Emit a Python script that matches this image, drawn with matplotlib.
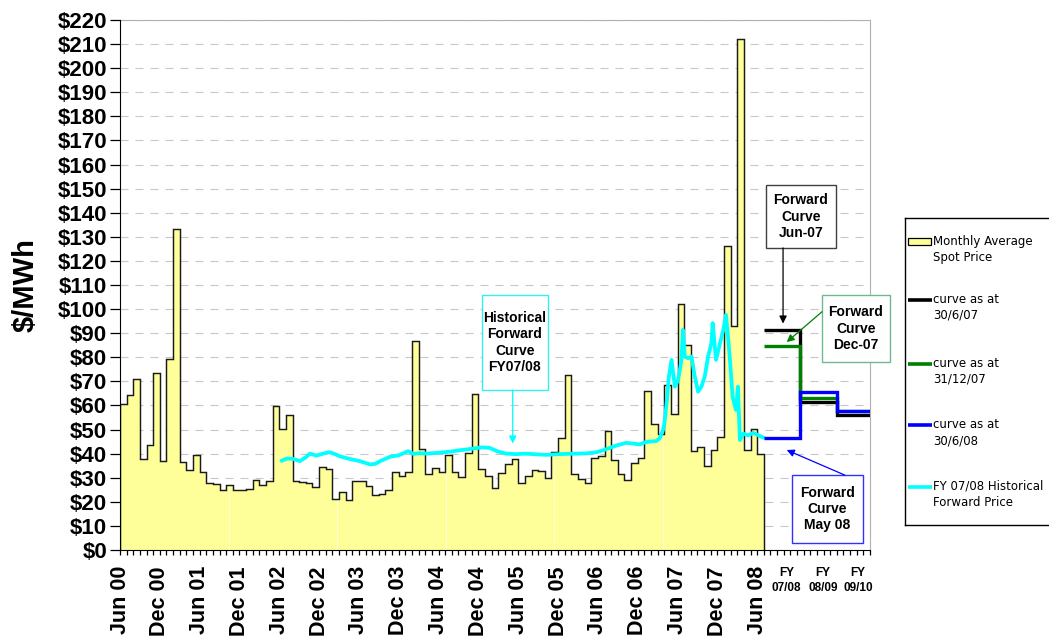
import numpy as np
import matplotlib
matplotlib.use("Agg")
import matplotlib.pyplot as plt
from matplotlib.patches import Rectangle

# ---------------- data ----------------
# Monthly average spot price, Jun 00 .. Jun 08 ($/MWh)
spot_price = [
    60.6, 64.5, 70.8, 37.9, 43.7, 73.3, 37.1, 79.4, 133.2, 36.5,
    33.2, 39.6, 32.4, 27.9, 27.4, 24.9, 27.0, 25.0, 25.0, 25.5,
    29.1, 26.8, 28.6, 59.9, 50.1, 55.9, 28.6, 28.2, 28.0, 26.2,
    34.6, 33.6, 21.3, 24.2, 20.6, 28.5, 28.6, 26.7, 22.7, 23.1,
    25.0, 32.4, 30.6, 32.5, 86.9, 41.8, 31.4, 33.9, 32.4, 39.3,
    32.2, 30.4, 40.3, 64.8, 33.6, 30.8, 25.7, 32.0, 35.6, 37.8,
    27.8, 30.6, 33.1, 32.7, 29.9, 40.5, 46.5, 72.8, 31.5, 29.5,
    27.7, 38.3, 38.9, 49.4, 37.2, 31.4, 28.9, 36.1, 38.3, 66.1,
    52.4, 48.2, 68.6, 56.3, 102.1, 85.3, 41.3, 42.8, 35.0, 41.6,
    46.9, 126.1, 92.9, 212.1, 41.6, 50.4, 39.8,
]

# FY 07/08 historical forward price (month index from Jun 00, $/MWh)
hist_month = [
    24.4, 25.2, 26.1, 27.1, 28.0, 28.6, 29.6, 30.6, 31.6, 32.4,
    33.1, 34.6, 36.1, 37.7, 38.5, 39.2, 40.7, 42.0, 43.4, 44.2,
    45.2, 46.2, 48.2, 49.7, 51.2, 53.2, 54.5, 55.7, 56.9, 58.2,
    59.7, 61.2, 62.8, 64.3, 66.3, 68.3, 70.3, 71.8, 72.8, 74.8,
    76.3, 77.3, 78.3, 79.1, 79.8, 80.8, 81.3, 81.8, 82.0, 82.4,
    82.7, 83.1, 83.6, 84.1, 84.6, 84.8, 85.1, 85.6, 86.1, 86.6,
    87.1, 87.6, 88.1, 88.6, 89.1, 89.3, 89.8, 90.4, 90.9, 91.3,
    91.6, 91.9, 92.3, 92.8, 93.1, 93.4, 93.9, 94.6, 95.4, 96.2,
    96.9,
]
hist_price = [
    37.1, 38.0, 37.8, 36.9, 38.5, 40.0, 39.2, 40.0, 40.6, 39.8,
    38.9, 37.8, 36.9, 35.5, 35.8, 36.9, 38.7, 39.3, 41.0, 39.9,
    40.2, 40.0, 40.4, 40.8, 41.4, 42.1, 42.6, 42.4, 40.9, 40.0,
    39.8, 40.0, 39.7, 39.5, 39.8, 40.0, 40.1, 40.6, 41.4, 43.4,
    44.5, 44.2, 43.8, 44.7, 45.0, 45.2, 46.3, 49.7, 52.0, 62.0,
    72.0, 78.9, 67.8, 70.6, 78.9, 91.4, 80.3, 79.6, 80.3, 72.0,
    65.7, 67.8, 72.0, 80.3, 85.8, 94.2, 78.9, 85.8, 91.4, 97.6,
    88.6, 78.9, 63.6, 58.1, 67.8, 45.6, 48.3, 47.6, 48.6, 47.6,
    46.7,
]

# Forward curves for FY 07/08, 08/09, 09/10
fy_edges = [97, 102.4, 108, 113]
fy_labels = ["FY\n07/08", "FY\n08/09", "FY\n09/10"]
curve_jun07 = [91.3, 61.6, 56.0]
curve_dec07 = [84.8, 63.0, 57.5]
curve_jun08 = [46.6, 65.5, 57.7]

month_tick_labels = ["Jun 00", "Dec 00", "Jun 01", "Dec 01", "Jun 02", "Dec 02",
                     "Jun 03", "Dec 03", "Jun 04", "Dec 04", "Jun 05", "Dec 05",
                     "Jun 06", "Dec 06", "Jun 07", "Dec 07", "Jun 08"]
y_ticks = list(range(0, 221, 10))

legend_labels = ["Monthly Average\nSpot Price", "curve as at\n30/6/07",
                 "curve as at\n31/12/07", "curve as at\n30/6/08",
                 "FY 07/08 Historical\nForward Price"]

# ---------------- styles ----------------
YELLOW = "#FFFF99"
CYAN = "#00FFFF"
GREEN = "#008000"
BLUE = "#0000FF"
FONT = "Liberation Sans"

W, H = 1049, 637
fig = plt.figure(figsize=(W / 100, H / 100), dpi=100)
fig.patch.set_facecolor("white")
ax = fig.add_axes([120 / W, (H - 550) / H, 750 / W, 530 / H])

ax.set_xlim(0, 113)
ax.set_ylim(0, 220)

# grid
for v in y_ticks[1:]:
    ax.axhline(v, color="#C8C8C8", lw=0.8, dashes=(7.2, 6.3), zorder=0)

# spot price area
edges = np.arange(len(spot_price) + 1)
fill_patch = ax.stairs(spot_price, edges, fill=True, baseline=0,
                       facecolor=YELLOW, edgecolor="none", zorder=2)
for gx in [16.35, 32.7, 49.05, 65.4, 81.75]:
    vl = ax.axvline(gx, color="#FFFFD2", lw=0.7, zorder=2.2)
    vl.set_clip_path(fill_patch)
ax.stairs(spot_price, edges, fill=False, baseline=0, color="#1a1a1a",
          lw=1.05, zorder=3)

# historical forward price
ax.plot(hist_month, hist_price, color=CYAN, lw=2.7, zorder=5,
        solid_joinstyle="round")

# forward curves
ax.stairs(curve_jun07, fy_edges, baseline=None, color="black", lw=2.4, zorder=6)
ax.stairs(curve_dec07, fy_edges, baseline=None, color=GREEN, lw=2.4, zorder=6.5)
ax.stairs(curve_jun08, fy_edges, baseline=None, color=BLUE, lw=2.4, zorder=7)

# axes styling
for s in ["top", "right"]:
    ax.spines[s].set_color("#B0B0B0")
    ax.spines[s].set_linewidth(0.8)
ax.spines["left"].set_color("black")
ax.spines["bottom"].set_color("black")
ax.spines["left"].set_zorder(8)
ax.spines["bottom"].set_zorder(8)

ax.set_yticks(y_ticks)
ax.set_yticklabels(["\\$%d" % v for v in y_ticks], fontsize=16,
                   fontweight="bold", family=FONT)
ax.tick_params(axis="y", direction="out", length=7.2, width=0.9, pad=2)

ax.set_xticks(np.arange(0, 97, 6))
ax.set_xticks(np.arange(0, 114, 1), minor=True)
ax.set_xticklabels(month_tick_labels, rotation=90, fontsize=15.5,
                   fontweight="bold", family=FONT)
ax.tick_params(axis="x", which="both", direction="out", length=3.6,
               width=0.9, pad=8)

ax.set_ylabel("\\$/MWh", fontsize=21, fontweight="bold", family=FONT)
ax.yaxis.set_label_coords(-0.107, 0.5)

# FY labels
for i, lab in enumerate(fy_labels):
    cx = (fy_edges[i] + fy_edges[i + 1]) / 2
    ax.text(cx + 0.7, -0.033, lab, transform=ax.get_xaxis_transform(),
            ha="center", va="top", fontsize=8.5, fontweight="bold",
            family=FONT, linespacing=1.25)

# annotation boxes
def box(x0, y0, x1, y1, ec, text, tx, ty):
    r = Rectangle((x0, y0), x1 - x0, y1 - y0, facecolor="white",
                  edgecolor=ec, lw=1.0, zorder=9, clip_on=False)
    ax.add_patch(r)
    ax.text(tx, ty, text, ha="center", va="center", fontsize=10,
            fontweight="bold", family=FONT, linespacing=1.2, zorder=10,
            clip_on=False)

def arrow(x0, y0, x1, y1, color):
    ax.annotate("", xy=(x1, y1), xytext=(x0, y0),
                arrowprops=dict(arrowstyle="-|>", color=color, lw=0.9,
                                mutation_scale=11, shrinkA=0, shrinkB=0),
                zorder=9, annotation_clip=False)

box(97.33, 125.4, 107.88, 151.5, "#404040", "Forward\nCurve\nJun-07", 102.6, 138.4)
arrow(99.9, 125.4, 99.9, 94.0, "black")

box(105.77, 78.0, 116.0, 105.9, "#70B890", "Forward\nCurve\nDec-07", 110.9, 91.9)
arrow(105.77, 98.9, 100.45, 86.3, GREEN)

box(101.25, 2.9, 111.95, 31.1, "#3030FF", "Forward\nCurve\nMay 08", 106.6, 17.0)
arrow(109.2, 31.1, 100.45, 41.5, BLUE)

box(54.5, 66.4, 64.5, 105.9, "#33F0F0", "Historical\nForward\nCurve\nFY07/08", 59.5, 86.1)
arrow(59.17, 66.4, 59.17, 44.2, CYAN)

# legend (drawn in its own pixel-coordinate axes)
lax = fig.add_axes([905 / W, (H - 525) / H, 200 / W, 307 / H])
lax.set_xlim(0, 200)
lax.set_ylim(307, 0)
lax.set_xticks([])
lax.set_yticks([])
for s in ["left", "top", "bottom"]:
    lax.spines[s].set_color("black")
    lax.spines[s].set_linewidth(1.0)
lax.spines["right"].set_visible(False)
lax.patch.set_alpha(0)

handle_y = [23.5, 82, 146, 207, 268.5]
lax.add_patch(Rectangle((3, handle_y[0] - 3.5), 23, 7, facecolor=YELLOW,
                        edgecolor="black", lw=0.9))
for hy, c in zip(handle_y[1:], ["black", GREEN, BLUE, CYAN]):
    lax.plot([3, 27], [hy, hy], color=c, lw=2.6, solid_capstyle="butt")
for hy, lab in zip(handle_y, legend_labels):
    lax.text(28, hy - 7, lab, ha="left", va="top", fontsize=8.5,
             family="DejaVu Sans", linespacing=1.3)

fig.savefig("out.png", dpi=100)
